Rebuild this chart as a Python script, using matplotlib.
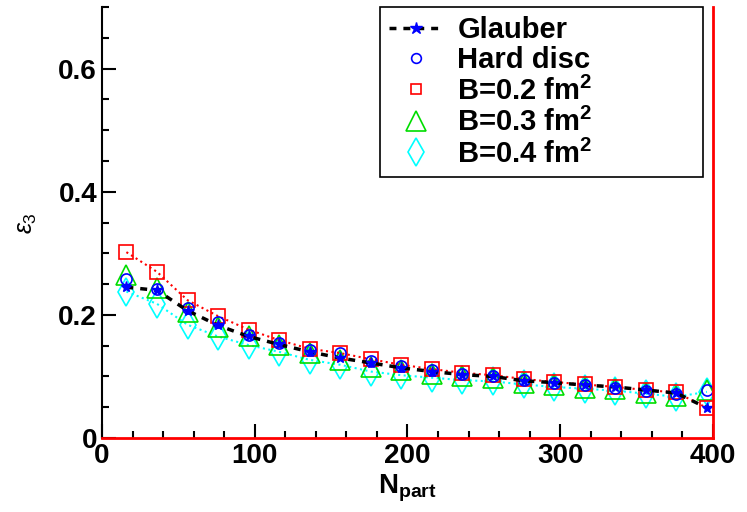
import matplotlib
matplotlib.use("Agg")
import matplotlib.pyplot as plt
from matplotlib.lines import Line2D
from matplotlib.ticker import MultipleLocator

plt.rcParams['font.family'] = ['Liberation Sans', 'DejaVu Sans']
plt.rcParams['mathtext.fontset'] = 'custom'
plt.rcParams['mathtext.rm'] = 'Liberation Sans'
plt.rcParams['mathtext.it'] = 'Liberation Sans:italic'
plt.rcParams['mathtext.bf'] = 'Liberation Sans:bold'

# Npart bin centres
npart = [16, 36, 56, 76, 96, 116, 136, 156, 176, 196,
         216, 236, 256, 276, 296, 316, 336, 356, 376, 396]

glauber = [0.245, 0.240, 0.207, 0.183, 0.165, 0.152, 0.140, 0.130, 0.122, 0.114,
           0.108, 0.103, 0.100, 0.093, 0.090, 0.086, 0.083, 0.078, 0.073, 0.049]
hard_disc = [0.258, 0.242, 0.212, 0.188, 0.168, 0.155, 0.143, 0.138, 0.125, 0.117,
             0.110, 0.104, 0.101, 0.094, 0.090, 0.086, 0.082, 0.077, 0.072, 0.078]
b02 = [0.302, 0.270, 0.224, 0.198, 0.176, 0.159, 0.145, 0.138, 0.128, 0.119,
       0.112, 0.106, 0.102, 0.096, 0.091, 0.087, 0.083, 0.078, 0.074, 0.049]
b03 = [0.265, 0.243, 0.205, 0.181, 0.165, 0.151, 0.138, 0.127, 0.116, 0.110,
       0.104, 0.100, 0.098, 0.090, 0.086, 0.082, 0.079, 0.073, 0.068, 0.078]
b04 = [0.238, 0.218, 0.184, 0.165, 0.151, 0.140, 0.127, 0.119, 0.108, 0.102,
       0.098, 0.094, 0.092, 0.087, 0.083, 0.080, 0.077, 0.072, 0.067, 0.075]

labels = ['Glauber', 'Hard disc', 'B=0.2 fm$^{\\mathbf{2}}$',
          'B=0.3 fm$^{\\mathbf{2}}$', 'B=0.4 fm$^{\\mathbf{2}}$']
green = '#00dd00'

fig = plt.figure(figsize=(7.47, 5.12), dpi=100)
ax = fig.add_axes([0.1365, 0.1445, 0.818, 0.8415])

ax.plot(npart, b04, ls=':', color='cyan', lw=1.5, marker='d', ms=14, mfc='none',
        mec='cyan', mew=1.2)
ax.plot(npart, b03, ls='none', marker='^', ms=14, mfc='none', mec=green, mew=1.2)
ax.plot(npart, b02, ls=':', color='red', lw=1.5, marker='s', ms=9.5, mfc='none',
        mec='red', mew=1.2)
ax.plot(npart, hard_disc, ls='none', marker='o', ms=8, mfc='none',
        mec='blue', mew=1.2)
ax.plot(npart, glauber, ls=(0, (2, 2)), color='black', lw=2.5, marker='*', ms=8,
        mfc='blue', mec='blue')

ax.set_xlim(0, 400)
ax.set_ylim(0, 0.7)
ax.set_xticks([0, 100, 200, 300, 400])
ax.set_yticks([0, 0.2, 0.4, 0.6])
ax.set_yticklabels(['0', '0.2', '0.4', '0.6'])
ax.xaxis.set_minor_locator(MultipleLocator(20))
ax.yaxis.set_minor_locator(MultipleLocator(0.05))
ax.tick_params(which='both', direction='in', top=False, right=False,
               labelsize=20, width=1.5)
ax.tick_params(which='major', length=10)
ax.tick_params(which='minor', length=5)
for lab in ax.get_xticklabels() + ax.get_yticklabels():
    lab.set_fontweight('bold')

ax.spines['top'].set_visible(False)
ax.spines['left'].set_linewidth(1.5)
ax.spines['bottom'].set_color('red')
ax.spines['bottom'].set_linewidth(2)
ax.spines['right'].set_color('red')
ax.spines['right'].set_linewidth(2)

ax.set_xlabel('N$_{\\mathbf{part}}$', fontsize=20, fontweight='bold')
ax.xaxis.set_label_coords(0.5, -0.08)
ax.set_ylabel('$\\epsilon_3$', fontsize=18, labelpad=14)

# legend: ROOT style, markers only except the Glauber line
handles = [
    Line2D([], [], ls=(0, (2, 2)), color='black', lw=2.5, marker='*', ms=9,
           mfc='blue', mec='blue'),
    Line2D([], [], ls='none', marker='o', ms=7, mfc='none', mec='blue', mew=1.2),
    Line2D([], [], ls='none', marker='s', ms=7, mfc='none', mec='red', mew=1.2),
    Line2D([], [], ls='none', marker='^', ms=14, mfc='none', mec=green, mew=1.2),
    Line2D([], [], ls='none', marker='d', ms=14, mfc='none', mec='cyan', mew=1.2),
]
leg = fig.legend(handles, labels, loc='upper left', mode='expand',
                 bbox_to_anchor=(380 / 747, 1 - 178 / 512, 323 / 747, 171 / 512),
                 fancybox=False, frameon=True, edgecolor='black', framealpha=1,
                 borderpad=0.3, labelspacing=0.08, handlelength=1.9,
                 handletextpad=0.45, borderaxespad=0,
                 prop={'weight': 'bold', 'size': 21})
leg.get_frame().set_linewidth(1.2)

fig.savefig('out.png', dpi=100)
